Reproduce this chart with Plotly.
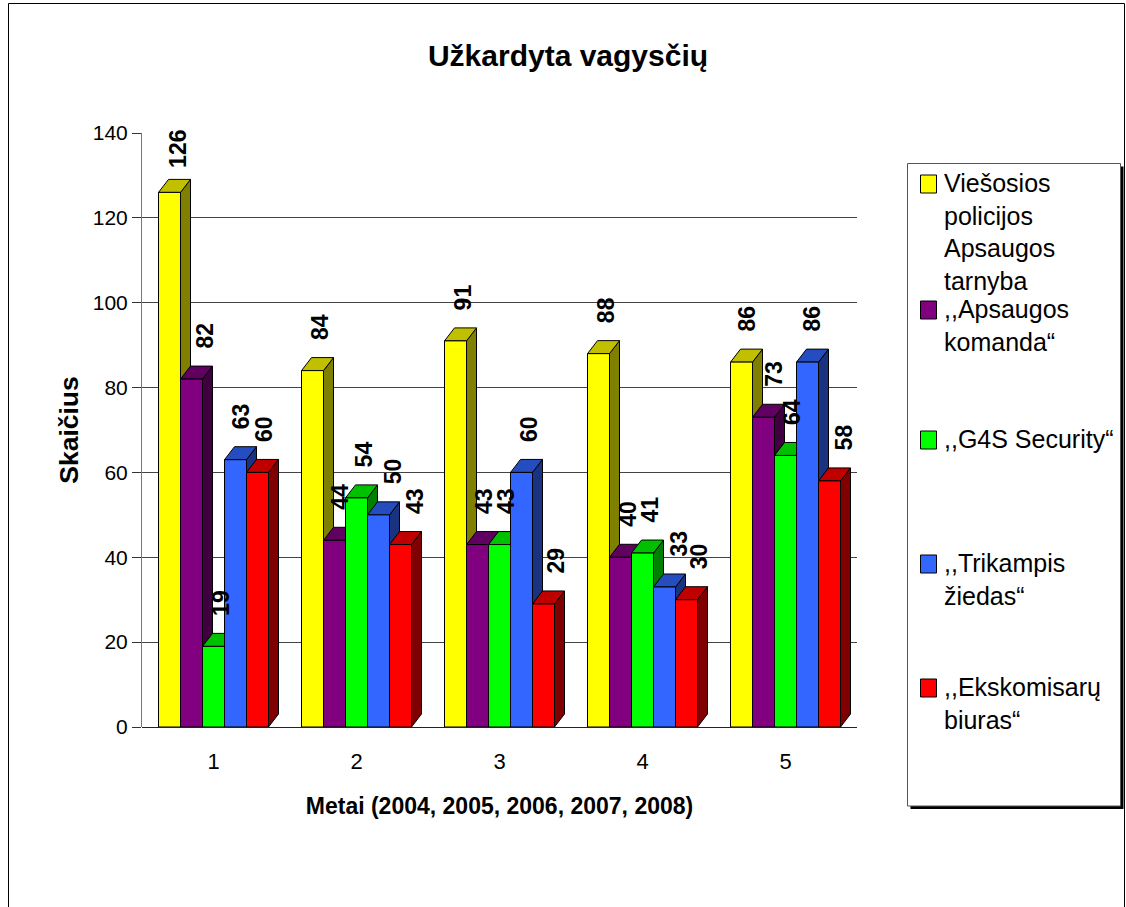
import plotly.graph_objects as go

categories = [1, 2, 3, 4, 5]
viesosios = [126, 84, 91, 88, 86]
apsaugos = [82, 44, 43, 40, 73]
g4s = [19, 54, 43, 41, 64]
trikampis = [63, 50, 60, 33, 86]
ekskomisaru = [60, 43, 29, 30, 58]
series_values = [viesosios, apsaugos, g4s, trikampis, ekskomisaru]
legend_labels = [
    "Viešosios<br>policijos<br>Apsaugos<br>tarnyba",
    ",,Apsaugos<br>komanda“",
    ",,G4S Security“",
    ",,Trikampis<br>žiedas“",
    ",,Ekskomisarų<br>biuras“",
]
front_colors = ["#FFFF00", "#800080", "#00FF00", "#3366FF", "#FF0000"]
side_colors = ["#808000", "#400040", "#008000", "#1A3380", "#800000"]
top_colors = ["#C0C000", "#600060", "#00C000", "#264DC0", "#C00000"]
y_ticks = [0, 20, 40, 60, 80, 100, 120, 140]

FONT = "Liberation Sans"
L, R, T, B = 142, 857, 133, 727
px_x = (R - L) / 5            # pixels per category
px_y = (B - T) / 140          # pixels per unit
BAR_W = 22 / px_x
DX = 10 / px_x
DY = 13 / px_y
# horizontal nudge of each value label, per series then category (styling only)
LABEL_NUDGE = [[9, 7, 7, 7, 6], [14, 6, 6, 8, 11], [8, 7, 6, 8, 7], [5, 14, 8, 14, 5], [7, 14, 12, 12, 14]]


def xp(px):
    return (px - L) / (R - L)


def yp(py):
    return (B - py) / (B - T)


fig = go.Figure()
for s, vals in enumerate(series_values):
    sx, sy, tx, ty, fx, fy = [], [], [], [], [], []
    for c, v in zip(categories, vals):
        x0 = c + (s - 2.5) * BAR_W
        x1 = x0 + BAR_W
        sx += [x1, x1 + DX, x1 + DX, x1, x1, None]
        sy += [0, DY, v + DY, v, 0, None]
        tx += [x0, x0 + DX, x1 + DX, x1, x0, None]
        ty += [v, v + DY, v + DY, v, v, None]
        fx += [x0, x1, x1, x0, x0, None]
        fy += [0, 0, v, v, 0, None]
    for xs, ys, col in ((sx, sy, side_colors[s]), (tx, ty, top_colors[s]), (fx, fy, front_colors[s])):
        fig.add_trace(go.Scatter(
            x=xs, y=ys, mode="lines", fill="toself", fillcolor=col,
            line=dict(color="#000000", width=1), showlegend=False, hoverinfo="skip",
        ))

annotations = []
for s, vals in enumerate(series_values):
    for i, (c, v) in enumerate(zip(categories, vals)):
        annotations.append(dict(
            x=c + (s - 2) * BAR_W, y=v, xref="x", yref="y", text=f"<b>{v}</b>",
            textangle=-90, showarrow=False, xanchor="center", yanchor="middle",
            xshift=LABEL_NUDGE[s][i], yshift=43, font=dict(family=FONT, size=23, color="#000000"),
        ))

# legend panel
BOX_L, BOX_T, BOX_R, BOX_B = 907.5, 163.5, 1120.5, 806
shapes = [
    dict(type="rect", xref="paper", yref="paper", x0=xp(8.5), x1=xp(1124.5), y0=yp(3.5), y1=yp(915),
         line=dict(color="#000000", width=1), fillcolor="rgba(0,0,0,0)", layer="below"),
    dict(type="rect", xref="paper", yref="paper", x0=xp(BOX_L + 3), x1=xp(BOX_R + 3), y0=yp(BOX_T + 3), y1=yp(BOX_B + 3),
         line=dict(width=0), fillcolor="#000000"),
    dict(type="rect", xref="paper", yref="paper", x0=xp(BOX_L), x1=xp(BOX_R), y0=yp(BOX_T), y1=yp(BOX_B),
         line=dict(color="#555555", width=1), fillcolor="#FFFFFF"),
]
swatch_tops = [175, 301, 431, 555, 679]
for name, col, top in zip(legend_labels, front_colors, swatch_tops):
    shapes.append(dict(type="rect", xref="paper", yref="paper", x0=xp(920.5), x1=xp(936.5),
                       y0=yp(top), y1=yp(top + 18), line=dict(color="#000000", width=1), fillcolor=col))
    annotations.append(dict(
        x=xp(941.5), y=yp(top - 8), xref="paper", yref="paper", text=name, showarrow=False,
        xanchor="left", yanchor="top", align="left",
        font=dict(family=FONT, size=25, color="#000000"),
    ))

fig.update_layout(
    width=1126, height=907, autosize=False,
    margin=dict(l=L, r=1126 - R, t=T, b=907 - B, pad=0),
    paper_bgcolor="#FFFFFF", plot_bgcolor="#FFFFFF",
    title=dict(text="<b>Užkardyta vagysčių</b>", x=568 / 1126, y=1 - 55 / 907, xanchor="center", yanchor="middle",
               font=dict(family=FONT, size=30, color="#000000")),
    xaxis=dict(range=[0.5, 5.5], tickmode="array", tickvals=categories, ticktext=[str(c) for c in categories],
               showgrid=False, zeroline=False, showline=False, ticks="outside", ticklen=15, tickcolor="rgba(0,0,0,0)",
               tickfont=dict(family=FONT, size=22, color="#000000"),
               title=dict(text="<b>Metai (2004, 2005, 2006, 2007, 2008)</b>", standoff=24,
                          font=dict(family=FONT, size=23, color="#000000"))),
    yaxis=dict(range=[0, 140], tickmode="array", tickvals=y_ticks, showgrid=True, gridcolor="#444444", gridwidth=1,
               zeroline=True, zerolinecolor="#222222", zerolinewidth=1,
               showline=True, linecolor="#777777", linewidth=1, ticks="outside", ticklen=9, tickcolor="#333333",
               tickfont=dict(family=FONT, size=21, color="#000000"),
               title=dict(text="<b>Skaičius</b>", standoff=6,
                          font=dict(family=FONT, size=26.5, color="#000000"))),
    shapes=shapes, annotations=annotations, showlegend=False,
)
fig.write_html("out.html", config={"displayModeBar": False},
               post_script="document.body.style.margin='0';document.body.style.overflow='hidden';")
